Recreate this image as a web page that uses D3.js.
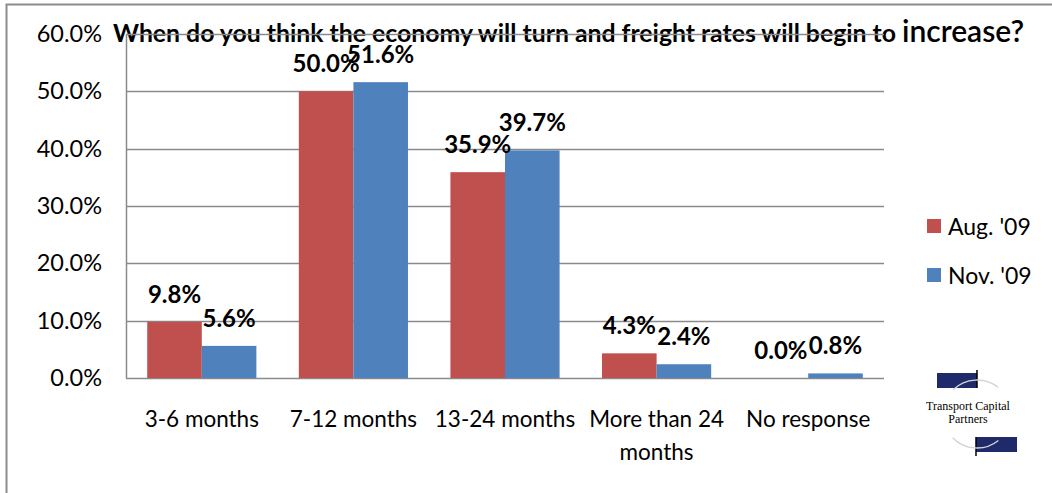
<!DOCTYPE html>
<html>
<head>
<meta charset="utf-8">
<script src="https://cdn.jsdelivr.net/npm/d3@7"></script>
<style>
  html, body { margin: 0; padding: 0; background: #fff; }
  svg { display: block; }
  text { font-family: Lato, "Open Sans", sans-serif; fill: #000; }
</style>
</head>
<body>
<svg id="chart" width="1052" height="493"></svg>
<script>
// Survey answers, share of respondents
const categories = ["3-6 months", "7-12 months", "13-24 months", "More than 24 months", "No response"];
const seriesNames = ["Aug. '09", "Nov. '09"];
const aug09 = [0.098, 0.500, 0.359, 0.043, 0.000];
const nov09 = [0.056, 0.516, 0.397, 0.024, 0.008];
const yTicks = [0, 0.1, 0.2, 0.3, 0.4, 0.5, 0.6];
const titleMain = "When do you think the economy will turn and freight rates will begin to ";
const titleEnd = "increase?";

const colors = { "Aug. '09": "#C0504D", "Nov. '09": "#4F81BD" };
const seriesValues = { "Aug. '09": aug09, "Nov. '09": nov09 };

const svg = d3.select("#chart");

// outer frame
svg.append("rect")
  .attr("x", 6.5).attr("y", 4.5)
  .attr("width", 1100).attr("height", 520)
  .attr("fill", "none").attr("stroke", "#8c8c8c").attr("stroke-width", 2);

const plot = { left: 126, right: 884, top: 34, bottom: 378 };

const x = d3.scaleBand()
  .domain(categories)
  .range([plot.left, plot.right])
  .paddingInner(0.28)
  .paddingOuter(0.14);

const xs = d3.scaleBand()
  .domain(seriesNames)
  .range([0, x.bandwidth()]);

const y = d3.scaleLinear()
  .domain([0, 0.6])
  .range([plot.bottom, plot.top]);

const fmt = d3.format(".1%");

// title (the top gridline runs across it)
const title = svg.append("text")
  .attr("x", 113).attr("y", 42)
  .attr("font-weight", "bold")
  .attr("font-size", 24.8);
title.append("tspan").text(titleMain);
title.append("tspan").attr("font-size", 30).attr("font-weight", 600).text(titleEnd);

// gridlines
svg.append("g")
  .selectAll("line")
  .data(yTicks)
  .join("line")
  .attr("x1", plot.left).attr("x2", plot.right)
  .attr("y1", d => Math.round(y(d)) + 0.5)
  .attr("y2", d => Math.round(y(d)) + 0.5)
  .attr("stroke", "#8a8a8a").attr("stroke-width", 1.5);

// y axis
const yAxis = svg.append("g")
  .attr("transform", `translate(${plot.left},0)`)
  .call(d3.axisLeft(y).tickValues(yTicks).tickFormat(fmt).tickSize(0).tickPadding(24));
yAxis.select(".domain").attr("stroke", "#8a8a8a").attr("stroke-width", 1.5);
yAxis.selectAll("text")
  .attr("font-size", 23.5)
  .attr("font-family", "Lato, sans-serif")
  .attr("fill", "#000");

// bars
const groups = svg.append("g")
  .selectAll("g")
  .data(categories)
  .join("g")
  .attr("transform", d => `translate(${x(d)},0)`);

groups.selectAll("rect")
  .data((d, i) => seriesNames.map(s => ({ s, v: seriesValues[s][i] })))
  .join("rect")
  .attr("x", d => xs(d.s))
  .attr("width", xs.bandwidth())
  .attr("y", d => y(d.v))
  .attr("height", d => y(0) - y(d.v))
  .attr("fill", d => colors[d.s]);

// value labels
groups.selectAll("text.val")
  .data((d, i) => seriesNames.map(s => ({ s, v: seriesValues[s][i] })))
  .join("text")
  .attr("class", "val")
  .attr("x", d => xs(d.s) + xs.bandwidth() / 2)
  .attr("y", d => y(d.v) - 19)
  .attr("text-anchor", "middle")
  .attr("font-weight", "bold")
  .attr("font-size", 24)
  .text(d => fmt(d.v));

// x axis labels, wrapped the way the category axis wraps them
const xLines = {
  "More than 24 months": ["More than 24", "months"]
};
svg.append("g")
  .selectAll("text")
  .data(categories)
  .join("text")
  .attr("x", d => x(d) + x.bandwidth() / 2)
  .attr("y", 427)
  .attr("text-anchor", "middle")
  .attr("font-size", 22.5)
  .each(function (d) {
    const lines = xLines[d] || [d];
    d3.select(this).selectAll("tspan")
      .data(lines)
      .join("tspan")
      .attr("x", x(d) + x.bandwidth() / 2)
      .attr("dy", (l, i) => i === 0 ? 0 : 33)
      .text(l => l);
  });

// legend
const legend = svg.append("g")
  .selectAll("g")
  .data(seriesNames)
  .join("g")
  .attr("transform", (d, i) => `translate(927,${219 + i * 49})`);
legend.append("rect")
  .attr("width", 14).attr("height", 14)
  .attr("fill", d => colors[d]);
legend.append("text")
  .attr("x", 21).attr("y", 16)
  .attr("font-size", 23)
  .text(d => d);

// company logo
const logo = svg.append("g").attr("transform", "translate(977,414)");
logo.append("rect").attr("x", -40).attr("y", -41).attr("width", 40).attr("height", 15).attr("fill", "#1f2a6b");
logo.append("line").attr("x1", 0).attr("x2", 0).attr("y1", -44).attr("y2", -26).attr("stroke", "#000").attr("stroke-width", 1.5);
logo.append("rect").attr("x", -1).attr("y", 23).attr("width", 41).attr("height", 15).attr("fill", "#1f2a6b");
logo.append("line").attr("x1", -1).attr("x2", -1).attr("y1", 23).attr("y2", 42).attr("stroke", "#000").attr("stroke-width", 1.5);
const ring = d3.arc().innerRadius(34).outerRadius(34);
logo.append("path")
  .attr("d", ring({ startAngle: -0.78, endAngle: 0.68 }))
  .attr("fill", "none").attr("stroke", "#d4d4d4").attr("stroke-width", 1.3);
logo.append("path")
  .attr("d", ring({ startAngle: Math.PI - 0.68, endAngle: Math.PI + 0.8 }))
  .attr("fill", "none").attr("stroke", "#d4d4d4").attr("stroke-width", 1.3);
logo.append("text")
  .attr("x", -9).attr("y", -4)
  .attr("text-anchor", "middle")
  .style("font-family", "'Liberation Serif', serif")
  .attr("font-size", 12)
  .attr("fill", "#555")
  .text("Transport Capital");
logo.append("text")
  .attr("x", -9).attr("y", 9)
  .attr("text-anchor", "middle")
  .style("font-family", "'Liberation Serif', serif")
  .attr("font-size", 12)
  .attr("fill", "#555")
  .text("Partners");
</script>
</body>
</html>
